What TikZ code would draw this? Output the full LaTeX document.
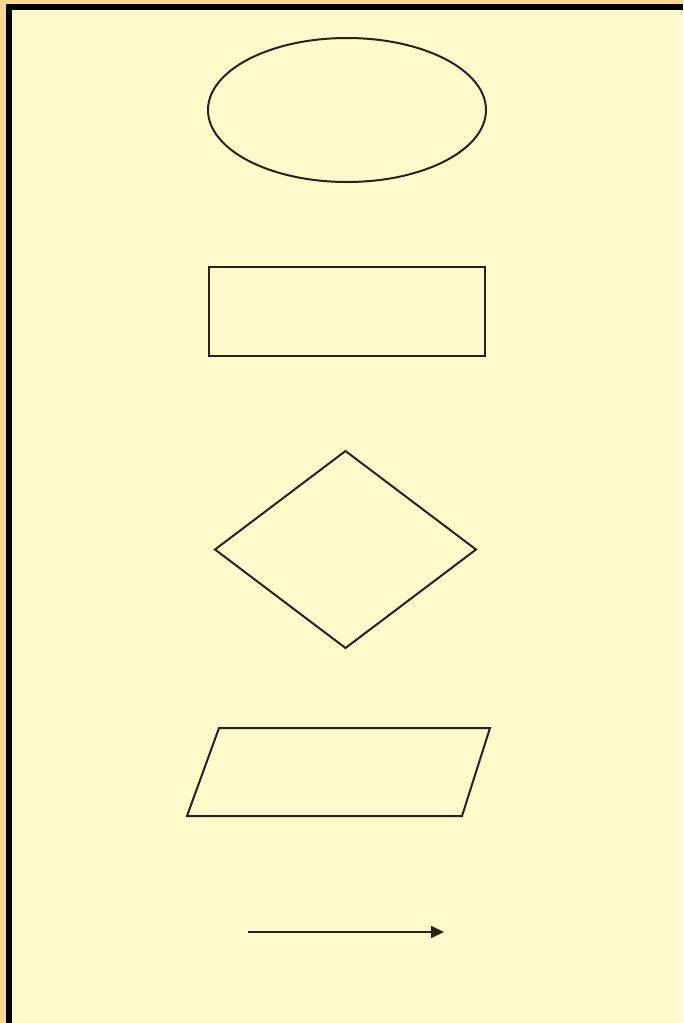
\documentclass[tikz,border=0pt]{standalone}
\usetikzlibrary{shapes.geometric,arrows.meta}
\definecolor{bgorange}{HTML}{F8D795}
\definecolor{paper}{HTML}{FFFACC}
\definecolor{ink}{HTML}{2B2118}
\tikzset{
  shapeline/.style={draw=ink, line width=2pt, inner sep=0pt, outer sep=0pt},
  conn/.style={draw=ink, line width=2pt, -{Triangle[length=13pt,width=12pt]}}
}
\begin{document}
\begin{tikzpicture}[x=1pt,y=-1pt]
\useasboundingbox (0,0) rectangle (683,1023);
\fill[bgorange] (0,0) rectangle (683,1023);
\fill[black] (6,4) rectangle (683,1023);
\fill[paper] (12,10) rectangle (683,1023);
\node[shapeline, ellipse, minimum width=278pt, minimum height=144pt] (term) at (347,110) {};
\node[shapeline, rectangle, minimum width=276pt, minimum height=89pt] (proc) at (347,311.5) {};
\node[shapeline, diamond, minimum width=261pt, minimum height=197pt] (dec) at (345.5,549.5) {};
\coordinate (ioTL) at (219,728);
\coordinate (ioTR) at (490,728);
\coordinate (ioBR) at (462,816);
\coordinate (ioBL) at (187,816);
\draw[shapeline, line join=miter] (ioTL) -- (ioTR) -- (ioBR) -- (ioBL) -- cycle;
\coordinate (arrS) at (248,932);
\coordinate (arrE) at (444,932);
\draw[conn] (arrS) -- (arrE);
\end{tikzpicture}
\end{document}
